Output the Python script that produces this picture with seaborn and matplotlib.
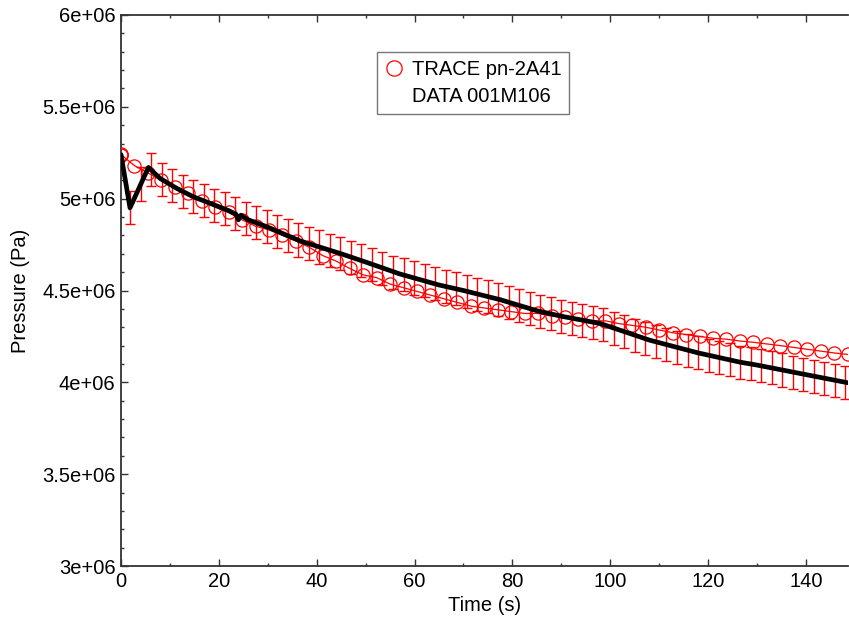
import matplotlib
matplotlib.use("Agg")
import matplotlib.pyplot as plt
import seaborn as sns
import pandas as pd
from matplotlib.lines import Line2D
from matplotlib.ticker import MultipleLocator, FuncFormatter

# measured data (black line), pressure in MPa
data_time = [0.0, 1.84, 5.6, 8.0, 11.4, 14.8, 18.2, 22.0, 23.5, 24.0, 24.5, 26.0, 30.0,
             36.6, 45.0, 50.0, 57.0, 65.0, 70.0, 77.5, 85.0, 90.0, 98.0, 108.0,
             118.0, 126.5, 130.0, 140.0, 148.5]
data_mpa = [5.24, 4.95, 5.17, 5.11, 5.056, 5.01, 4.975, 4.935, 4.915, 4.885, 4.91, 4.885, 4.845,
            4.77, 4.70, 4.655, 4.59, 4.53, 4.50, 4.45, 4.39, 4.36, 4.32, 4.23,
            4.16, 4.11, 4.094, 4.042, 3.998]

# error bar samples on the measured data
bar_time = [1.85, 4.0, 6.15, 8.3, 10.45, 12.6, 14.75, 16.9, 19.05, 21.2, 23.35, 25.5,
            27.65, 29.8, 31.95, 34.1, 36.25, 38.4, 40.55, 42.7, 44.85, 47.0, 49.15,
            51.3, 53.45, 55.6, 57.75, 59.9, 62.05, 64.2, 66.35, 68.5, 70.65, 72.8,
            74.95, 77.1, 79.25, 81.4, 83.55, 85.7, 87.85, 90.0, 92.15, 94.3, 96.45,
            98.6, 100.75, 102.9, 105.05, 107.2, 109.35, 111.5, 113.65, 115.8, 117.95,
            120.1, 122.25, 124.4, 126.55, 128.7, 130.85, 133.0, 135.15, 137.3, 139.45,
            141.6, 143.75, 145.9, 148.05]
bar_mpa = [4.95, 5.08, 5.16, 5.105, 5.07, 5.04, 5.01, 4.99, 4.965, 4.945, 4.92, 4.89,
           4.87, 4.847, 4.823, 4.80, 4.775, 4.755, 4.737, 4.72, 4.70, 4.682, 4.663,
           4.643, 4.622, 4.60, 4.585, 4.568, 4.552, 4.536, 4.522, 4.509, 4.496, 4.48,
           4.467, 4.453, 4.436, 4.419, 4.401, 4.386, 4.373, 4.36, 4.349, 4.339, 4.328,
           4.315, 4.295, 4.276, 4.257, 4.237, 4.221, 4.206, 4.19, 4.175, 4.16,
           4.148, 4.135, 4.122, 4.11, 4.102, 4.09, 4.079, 4.067, 4.056, 4.045,
           4.034, 4.023, 4.012, 4.0]
bar_err_mpa = 0.09

# TRACE calculation (red circles)
trace_time = [0.0, 0.05, 0.1, 2.75, 5.5, 8.25, 11.0, 13.75, 16.5, 19.25, 22.0, 24.75,
              27.5, 30.25, 33.0, 35.75, 38.5, 41.25, 44.0, 46.75, 49.5, 52.25, 55.0,
              57.75, 60.5, 63.25, 66.0, 68.75, 71.5, 74.25, 77.0, 79.75, 82.5, 85.25,
              88.0, 90.75, 93.5, 96.25, 99.0, 101.75, 104.5, 107.25, 110.0, 112.75,
              115.5, 118.25, 121.0, 123.75, 126.5, 129.25, 132.0, 134.75, 137.5,
              140.25, 143.0, 145.75, 148.5]
trace_mpa = [5.245, 5.24, 5.238, 5.18, 5.14, 5.10, 5.065, 5.03, 4.99, 4.955, 4.925, 4.885,
             4.85, 4.83, 4.80, 4.77, 4.735, 4.69, 4.66, 4.62, 4.585, 4.57, 4.535,
             4.515, 4.495, 4.475, 4.455, 4.435, 4.415, 4.405, 4.395, 4.385, 4.375, 4.375,
             4.36, 4.355, 4.345, 4.335, 4.335, 4.32, 4.31, 4.30, 4.285, 4.27,
             4.26, 4.25, 4.24, 4.235, 4.225, 4.218, 4.209, 4.20, 4.19,
             4.18, 4.17, 4.16, 4.152]

data_df = pd.DataFrame({"time": data_time, "pressure": [v * 1e6 for v in data_mpa]})
trace_df = pd.DataFrame({"time": trace_time, "pressure": [v * 1e6 for v in trace_mpa]})

sns.set_style("ticks")
plt.rcParams["font.family"] = ["Liberation Sans", "DejaVu Sans"]
plt.rcParams["text.color"] = "black"
plt.rcParams["axes.labelcolor"] = "black"
plt.rcParams["xtick.color"] = "black"
plt.rcParams["ytick.color"] = "black"

fig = plt.figure(figsize=(8.49, 6.22), dpi=100)
ax = fig.add_axes([121 / 849, 56 / 622, 727 / 849, 551 / 622])

ax.errorbar(bar_time, [v * 1e6 for v in bar_mpa], yerr=bar_err_mpa * 1e6, fmt="none",
            ecolor="red", elinewidth=1.0, capsize=3.3, capthick=1.0, zorder=2)
sns.lineplot(data=trace_df, x="time", y="pressure", ax=ax, color="red", linewidth=0.9,
             marker="o", markersize=9.5, markerfacecolor="none", markeredgecolor="red",
             markeredgewidth=0.9, estimator=None, sort=False, zorder=3)
sns.lineplot(data=data_df, x="time", y="pressure", ax=ax, color="black", linewidth=3.4,
             estimator=None, sort=False, zorder=4)

ax.set_xlim(0, 148.6)
ax.set_ylim(3e6, 6e6)
ax.xaxis.set_major_locator(MultipleLocator(20))
ax.xaxis.set_minor_locator(MultipleLocator(10))
ax.yaxis.set_major_locator(MultipleLocator(5e5))
ax.yaxis.set_minor_locator(MultipleLocator(1e5))
ax.yaxis.set_major_formatter(FuncFormatter(
    lambda v, pos: f"{v / 1e6:g}e+06"))

ax.tick_params(which="both", direction="in", top=True, right=False, labelsize=14.5,
               color="#333333", width=1.0)
ax.tick_params(which="major", length=5, pad=4)
ax.tick_params(which="minor", length=2.5)
for side in ["left", "bottom", "top"]:
    ax.spines[side].set_linewidth(1.3)
    ax.spines[side].set_color("#333333")
ax.spines["right"].set_visible(False)

ax.set_xlabel("Time (s)", fontsize=14.5, labelpad=4)
ax.set_ylabel("Pressure (Pa)", fontsize=14.5, labelpad=9)

handles = [Line2D([], [], linestyle="none", marker="o", markersize=11,
                  markerfacecolor="none", markeredgecolor="red", markeredgewidth=0.9),
           Line2D([], [], linestyle="none")]
leg = ax.legend(handles, ["TRACE pn-2A41", "DATA 001M106"], loc="upper left",
                bbox_to_anchor=(0.352, 0.933), borderaxespad=0, fontsize=14.5,
                frameon=True, fancybox=False, handlelength=0.9, handletextpad=0.45,
                labelspacing=0.42, borderpad=0.38)
leg.get_frame().set_edgecolor("#555555")
leg.get_frame().set_linewidth(1.0)

fig.savefig("out.png", dpi=100)
